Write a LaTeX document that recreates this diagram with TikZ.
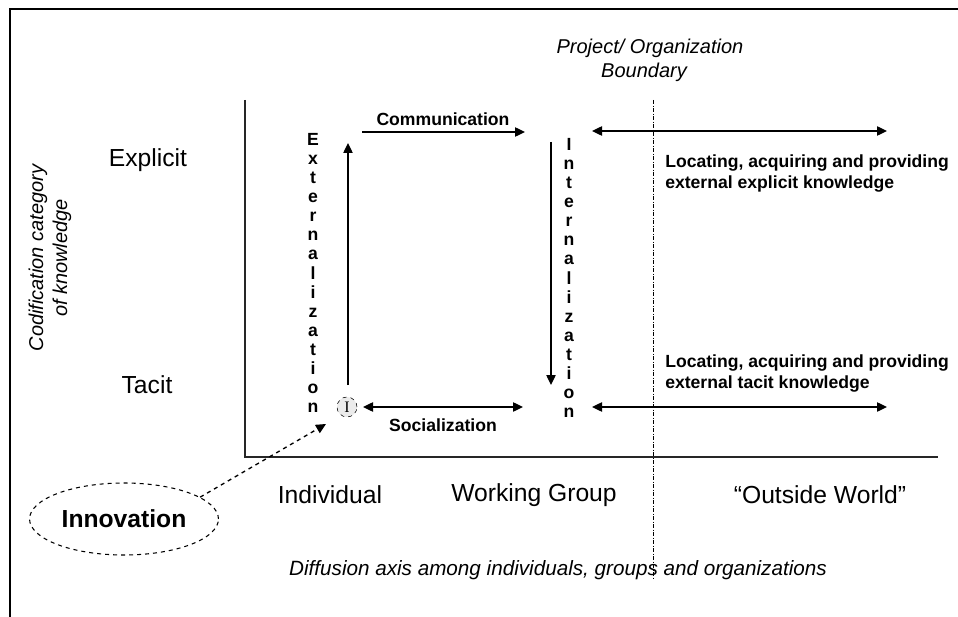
\documentclass[tikz,border=0pt]{standalone}
\usepackage{fontspec}
\setmainfont{Liberation Sans}
\newfontfamily\serifI{Liberation Serif}
\usetikzlibrary{arrows.meta,shapes.geometric}
\begin{document}
\begin{tikzpicture}[x=0.75pt,y=-0.75pt,
  lbl/.style={font=\fontsize{18.5}{22}\selectfont, inner sep=0pt},
  blbl/.style={font=\fontsize{13.2}{15.8}\selectfont\bfseries, inner sep=0pt},
  itl/.style={font=\fontsize{15}{18}\selectfont\itshape, inner sep=0pt},
  vlbl/.style={font=\fontsize{13.2}{14.3}\selectfont\bfseries, align=center, inner sep=0pt},
  arr/.style={line width=1pt, -{Triangle[length=7.5pt,width=7pt]}},
  darr/.style={line width=1pt, {Triangle[length=7.5pt,width=7pt]}-{Triangle[length=7.5pt,width=7pt]}},
  axisline/.style={line width=1.3pt, draw=black!85},
  boundary/.style={line width=0.6pt, dash pattern=on 3pt off 1.2pt on 0.6pt off 1.2pt},
]
\useasboundingbox (0,0) rectangle (958,617);

% outer frame (top and left edges)
\draw[line width=1.2pt] (10,617) -- (10,9) -- (958,9);

% axes
\coordinate (origin) at (245,457);
\coordinate (ytop) at (245,100);
\coordinate (xend) at (938,457);
\draw[axisline] (ytop) -- (origin) -- (xend);

% project / organization boundary
\node[itl, align=center] (bndlabel) at (650,60) {Project/ Organization\\\hspace*{-0.6em}Boundary};
\coordinate (btop) at (653,100);
\coordinate (bbot) at (653,578);
\draw[boundary] (btop) -- (bbot);

% vertical axis labels
\node[lbl] (explicit) at (148,160) {Explicit};
\node[lbl] (tacit) at (147,385) {Tacit};
\node[itl, rotate=90, align=center] (codif) at (50,258) {Codification category\\of knowledge};

% horizontal axis labels
\node[lbl] (indiv) at (330,495) {Individual};
\node[lbl] (wgroup) at (534,495) {Working Group};
\node[lbl] (outside) at (820,495) {``Outside World''};
\node[itl, font=\fontsize{15.5}{18}\selectfont\itshape] (diffusion) at (558,570) {Diffusion axis among individuals, groups and organizations};

% individual knowledge seed
\node[circle, draw, dashed, fill=black!8, minimum size=15pt, inner sep=0pt,
      font=\serifI\fontsize{12}{12}\selectfont] (seed) at (347,407) {I};

% externalization
\coordinate (extlow) at (348,385);
\coordinate (exthigh) at (348,143);
\draw[arr] (extlow) -- (exthigh);
\node[vlbl] (extlabel) at (313,273) {E\\x\\t\\e\\r\\n\\a\\l\\i\\z\\a\\t\\i\\o\\n};

% communication
\coordinate (comstart) at (362,132);
\coordinate (comend) at (525,132);
\draw[arr] (comstart) -- (comend);
\node[blbl] (comlabel) at (443,119) {Communication};

% internalization
\coordinate (inthigh) at (551,142);
\coordinate (intlow) at (551,385);
\draw[arr] (inthigh) -- (intlow);
\node[vlbl] (intlabel) at (569,278) {I\\n\\t\\e\\r\\n\\a\\l\\i\\z\\a\\t\\i\\o\\n};

% socialization
\coordinate (socstart) at (363,407);
\coordinate (socend) at (523,407);
\draw[darr] (socstart) -- (socend);
\node[blbl] (soclabel) at (443,425) {Socialization};

% external explicit knowledge
\coordinate (exexl) at (592,131);
\coordinate (exexr) at (887,131);
\draw[darr] (exexl) -- (exexr);
\node[blbl, align=left, anchor=west] (exexlabel) at (665,173.5) {Locating, acquiring and providing\\external explicit knowledge};

% external tacit knowledge
\coordinate (extal) at (592,407);
\coordinate (extar) at (887,407);
\draw[darr] (extal) -- (extar);
\node[blbl, align=left, anchor=west] (extalabel) at (665,373.5) {Locating, acquiring and providing\\external tacit knowledge};

% innovation
\node[ellipse, draw, dashed, line width=0.8pt, minimum width=130.5pt, minimum height=54pt,
      font=\fontsize{18.5}{22}\selectfont\bfseries] (innov) at (124,519) {Innovation};
\coordinate (innovtip) at (326,424);
\draw[dashed, line width=1pt, -{Triangle[length=7.5pt,width=7pt]}] (innov.16.5) -- (innovtip);

\end{tikzpicture}
\end{document}
